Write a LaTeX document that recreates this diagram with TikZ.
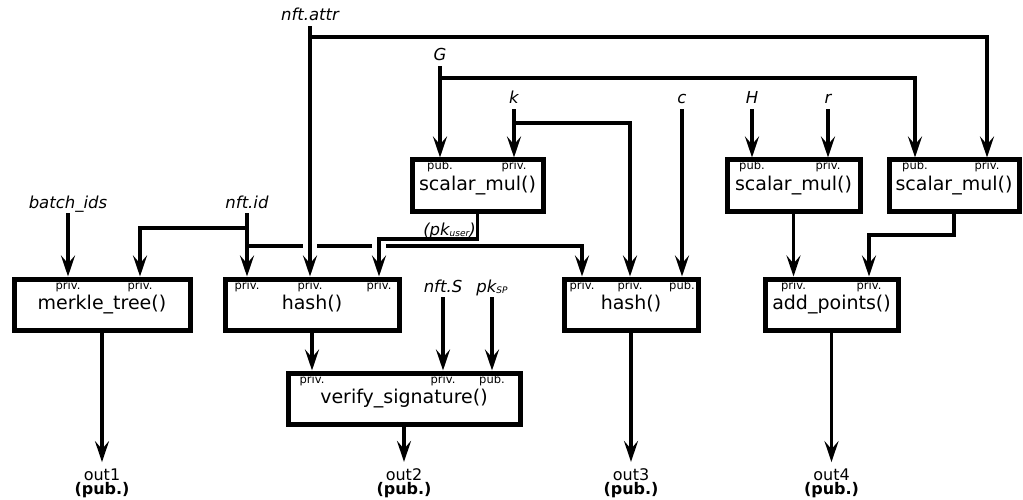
\documentclass[tikz,border=0pt]{standalone}
\usepackage{fontspec}
\setmainfont{DejaVu Sans}
\usetikzlibrary{arrows.meta}
\newcommand\mysub[1]{\raisebox{-1.5pt}{\fontsize{9}{9}\selectfont #1}}
\begin{document}
\begin{tikzpicture}[x=1pt,y=-1pt,
  box/.style={draw, line width=5pt, inner sep=0pt, minimum height=51pt,
    font=\fontsize{19}{19}\selectfont, text height=13pt, text depth=3pt},
  port/.style={font=\fontsize{11.5}{11.5}\selectfont, anchor=base, inner sep=0pt},
  inp/.style={font=\fontsize{16.5}{16.5}\selectfont\itshape, anchor=base,
    inner xsep=0pt, inner ysep=5pt, text depth=0pt},
  conn/.style={line width=3.4pt},
  arr/.style={conn, -{Stealth[length=21pt,width=14pt,inset=8pt]}},
  outl/.style={font=\fontsize{16}{16}\selectfont, anchor=base, inner xsep=0pt, inner ysep=6pt},
  publ/.style={font=\fontsize{16}{16}\selectfont\bfseries, anchor=base, inner sep=0pt}
]
\useasboundingbox (0,0) rectangle (1023,500);

% boxes
\node[box, minimum width=176pt] (merkle) at (102,304.5) {merkle\_tree()};
\node[box, minimum width=174pt] (hash1) at (312,304.5) {hash()};
\node[box, minimum width=134pt] (hash2) at (631,304.5) {hash()};
\node[box, minimum width=133pt] (addp) at (831.5,304.5) {add\_points()};
\node[box, minimum width=131pt] (sm1) at (477.5,185.5) {scalar\_mul()};
\node[box, minimum width=133pt] (sm2) at (793.5,185.5) {scalar\_mul()};
\node[box, minimum width=130pt] (sm3) at (954,185.5) {scalar\_mul()};
\node[box, minimum width=232pt] (verify) at (404,398.5) {verify\_signature()};

% ports
\node[port] (mk1) at (68,289) {priv.};
\node[port] (mk2) at (140,289) {priv.};
\node[port] (ha1) at (247,289) {priv.};
\node[port] (ha2) at (310,289) {priv.};
\node[port] (ha3) at (379,289) {priv.};
\node[port] (hb1) at (582,289) {priv.};
\node[port] (hb2) at (630,289) {priv.};
\node[port] (hb3) at (682,289) {pub.};
\node[port] (ad1) at (793.5,289) {priv.};
\node[port] (ad2) at (869,289) {priv.};
\node[port] (sa1) at (440,170) {pub.};
\node[port] (sa2) at (514,170) {priv.};
\node[port] (sb1) at (752,170) {pub.};
\node[port] (sb2) at (828,170) {priv.};
\node[port] (sc1) at (915,170) {pub.};
\node[port] (sc2) at (987,170) {priv.};
\node[port] (vf1) at (312,383) {priv.};
\node[port] (vf2) at (443,383) {priv.};
\node[port] (vf3) at (492,383) {pub.};

% inputs
\node[inp] (attr) at (310,21) {nft.attr};
\node[inp] (G) at (440,61) {G};
\node[inp] (k) at (514,104) {k};
\node[inp] (c) at (682,104) {c};
\node[inp] (H) at (752,104) {H};
\node[inp] (r) at (828,104) {r};
\node[inp] (batch) at (68,208) {batch\_ids};
\node[inp] (id) at (247,208) {nft.id};
\node[inp] (S) at (443,292) {nft.S};
\node[inp] (pksp) at (492,292) {pk\mysub{SP}};
\node[inp, anchor=base east] (pkuser) at (476,235) {(pk\mysub{user})};

% outputs
\node[outl] (o1) at (102,480) {out1};
\node[publ] (p1) at (102,494) {(pub.)};
\node[outl] (o2) at (404,480) {out2};
\node[publ] (p2) at (404,494) {(pub.)};
\node[outl] (o3) at (631,480) {out3};
\node[publ] (p3) at (631,494) {(pub.)};
\node[outl] (o4) at (831.5,480) {out4};
\node[publ] (p4) at (831.5,494) {(pub.)};

% junctions
\coordinate (ja) at (310,37);
\coordinate (jG) at (440,78);
\coordinate (jk) at (514,123);
\coordinate (jid1) at (247,228);
\coordinate (jid2) at (247,246);
\coordinate (jpk) at (379,239);
\coordinate (jsc) at (869,235);

% nft.id
\draw[arr] (id.south) -- (ha1 |- hash1.north);
\draw[arr] (jid1) -| (mk2 |- merkle.north);
\draw[arr] (jid2) -| (hb1 |- hash2.north);
% gaps at crossings
\fill[white] (303,243) rectangle (317,249);
\fill[white] (372,243) rectangle (386,249);

% nft.attr
\draw[arr] (attr.south) -- (ha2 |- hash1.north);
\draw[arr] (ja) -| (sc2 |- sm3.north);
% G
\draw[arr] (G.south) -- (sa1 |- sm1.north);
\draw[arr] (jG) -| (sc1 |- sm3.north);
% k
\draw[arr] (k.south) -- (sa2 |- sm1.north);
\draw[arr] (jk) -| (hb2 |- hash2.north);
% c, H, r
\draw[arr] (c.south) -- (hb3 |- hash2.north);
\draw[arr] (H.south) -- (sb1 |- sm2.north);
\draw[arr] (r.south) -- (sb2 |- sm2.north);
% batch_ids
\draw[arr] (batch.south) -- (mk1 |- merkle.north);
% pk_user
\draw[arr] (sm1.south) |- (jpk) -- (ha3 |- hash1.north);
% verify inputs
\draw[arr] (hash1.south) -- (vf1 |- verify.north);
\draw[arr] (S.south) -- (vf2 |- verify.north);
\draw[arr] (pksp.south) -- (vf3 |- verify.north);
% add_points inputs
\draw[arr] (sm2.south) -- (ad1 |- addp.north);
\draw[arr] (sm3.south) |- (jsc) -- (ad2 |- addp.north);
% outputs
\draw[arr] (merkle.south) -- (o1.north);
\draw[arr] (verify.south) -- (o2.north);
\draw[arr] (hash2.south) -- (o3.north);
\draw[arr] (addp.south) -- (o4.north);
\end{tikzpicture}
\end{document}
